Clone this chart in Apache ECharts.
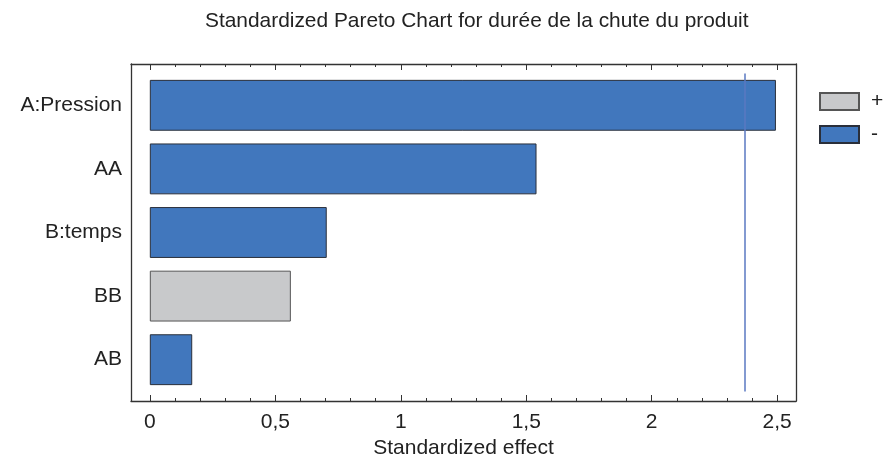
<!DOCTYPE html>
<html>
<head>
<meta charset="utf-8">
<script src="https://cdn.jsdelivr.net/npm/echarts@6/dist/echarts.min.js"></script>
<style>
html,body{margin:0;padding:0;background:#fff;}
#main{width:887px;height:468px;}
</style>
</head>
<body>
<div id="main"></div>
<script>
// effects, sorted as in the picture (top to bottom)
var effects = ['A:Pression', 'AA', 'B:temps', 'BB', 'AB'];
var values = [2.495, 1.541, 0.705, 0.562, 0.169];
var signs = ['-', '-', '-', '+', '-'];
var critical = 2.365;
var majorTicks = [0, 0.5, 1, 1.5, 2, 2.5];
var minorTicks = [0.1, 0.2, 0.3, 0.4, 0.6, 0.7, 0.8, 0.9, 1.1, 1.2, 1.3, 1.4,
    1.6, 1.7, 1.8, 1.9, 2.1, 2.2, 2.3, 2.4];

var xMin = -0.075, xMax = 2.575;
var font = 'Liberation Sans, Arial, sans-serif';
var frameColor = '#333';

var chart = echarts.init(document.getElementById('main'));

function tickAxis(pos, ticks, len, showLine, showLabel) {
    return {
        type: 'value', gridIndex: 0, position: pos, min: xMin, max: xMax,
        axisLine: {show: showLine, onZero: false, lineStyle: {color: frameColor, width: 1.3}},
        axisTick: {show: true, inside: true, length: len, customValues: ticks,
            lineStyle: {color: frameColor, width: 1}},
        axisLabel: {show: showLabel, customValues: ticks, margin: 11,
            color: '#222', fontSize: 21, fontFamily: font,
            formatter: function (v) { return String(v).replace('.', ','); }},
        splitLine: {show: false}
    };
}

var xBottom = tickAxis('bottom', majorTicks, 6, true, true);
xBottom.name = 'Standardized effect';
xBottom.nameLocation = 'middle';
xBottom.nameGap = 34;
xBottom.nameTextStyle = {color: '#222', fontSize: 21, fontFamily: font};

function frameAxis(pos) {
    return {type: 'value', gridIndex: 0, position: pos, min: 0, max: 1,
        axisLine: {show: true, onZero: false, lineStyle: {color: frameColor, width: 1.3}},
        axisTick: {show: false}, axisLabel: {show: false}, splitLine: {show: false}};
}

var plusVals = values.map(function (v, i) { return signs[i] === '+' ? v : '-'; });
var minusVals = values.map(function (v, i) { return signs[i] === '-' ? v : '-'; });

var option = {
    animation: false,
    backgroundColor: '#fff',
    title: {
        text: 'Standardized Pareto Chart for durée de la chute du produit',
        left: 200, top: 6,
        textStyle: {color: '#222', fontSize: 20.9, fontWeight: 'normal', fontFamily: font}
    },
    legend: {
        orient: 'vertical', left: 814, top: 86,
        itemWidth: 39, itemHeight: 17, itemGap: 12,
        icon: 'rect',
        textStyle: {color: '#222', fontSize: 21, fontFamily: font, padding: [0, 0, 0, 7]},
        data: ['+', '-']
    },
    grid: [
        {left: 131, right: 91, top: 64, bottom: 67},
        {left: 131, right: 91, top: 73.5, bottom: 76.5}
    ],
    xAxis: [
        xBottom,
        tickAxis('bottom', minorTicks, 3, false, false),
        tickAxis('top', majorTicks, 6, true, false),
        tickAxis('top', minorTicks, 3, false, false),
        {type: 'value', gridIndex: 1, min: xMin, max: xMax, show: false}
    ],
    yAxis: [
        frameAxis('left'),
        frameAxis('right'),
        {type: 'category', gridIndex: 1, data: effects, inverse: true,
            axisLine: {show: false}, axisTick: {show: false},
            axisLabel: {color: '#222', fontSize: 21, fontFamily: font, margin: 9}}
    ],
    series: [
        {
            name: '+', type: 'bar', stack: 'eff', xAxisIndex: 4, yAxisIndex: 2,
            barWidth: '80%', data: plusVals,
            itemStyle: {color: '#c8c9cb', borderColor: '#555', borderWidth: 1}
        },
        {
            name: '-', type: 'bar', stack: 'eff', xAxisIndex: 4, yAxisIndex: 2,
            barWidth: '80%', data: minusVals,
            itemStyle: {color: '#4177bd', borderColor: '#2a2f3a', borderWidth: 1},
            markLine: {
                silent: true, symbol: 'none', label: {show: false},
                lineStyle: {color: '#5a78c2', width: 1.5, type: 'solid'},
                data: [{xAxis: critical}]
            }
        }
    ]
};

chart.setOption(option);
</script>
</body>
</html>
